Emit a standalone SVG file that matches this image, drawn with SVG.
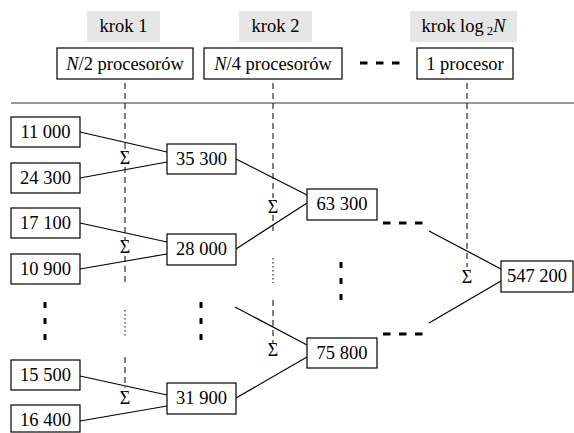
<svg xmlns="http://www.w3.org/2000/svg" width="574" height="433" viewBox="0 0 574 433" font-family="'Liberation Serif', 'Times New Roman', serif">
<style>
text{font-family:'Liberation Serif',serif;font-size:18.5px;fill:#000;text-anchor:middle}
.hd{fill:#e6e6e6;stroke:none}
.bx{fill:#fff;stroke:#000;stroke-width:1.2}
.ln{stroke:#000;stroke-width:1.2;fill:none}
.dv{stroke:#000;stroke-width:1;stroke-dasharray:6 4;fill:none}
.dt{stroke:#000;stroke-width:1;stroke-dasharray:1.5 2.5;fill:none}
.hdash{stroke:#000;stroke-width:3;stroke-dasharray:7.5 8.5;fill:none}
.vdot{stroke:#000;stroke-width:3;stroke-dasharray:6 10;fill:none}
.sg{font-size:18px}
</style>
<g id="headers">
<g id="krok1"><rect class="hd" x="87" y="11" width="73" height="31"/><text x="123.5" y="32">krok 1</text></g>
<g id="krok2"><rect class="hd" x="239" y="11" width="73" height="31"/><text x="275.5" y="32">krok 2</text></g>
<g id="kroklog"><rect class="hd" x="410" y="11" width="107" height="31"/><text x="463.5" y="32">krok log<tspan font-size="13" dx="3" dy="3">2</tspan><tspan font-style="italic" dy="-3">N</tspan></text></g>
<g id="p1"><rect class="bx" x="57" y="48" width="136" height="31"/><text x="125" y="69.5"><tspan font-style="italic">N</tspan>/2 procesorów</text></g>
<g id="p2"><rect class="bx" x="204" y="48" width="138" height="31"/><text x="273" y="69.5"><tspan font-style="italic">N</tspan>/4 procesorów</text></g>
<g id="p3"><rect class="bx" x="417" y="48" width="96" height="31"/><text x="465" y="69.5">1 procesor</text></g>
</g>
<g id="connectors">
<line x1="11" y1="103" x2="574" y2="103" stroke="#777" stroke-width="1.5"/>
<line class="hdash" x1="360" y1="63" x2="400" y2="63"/>
<path class="dv" d="M125,83V150M125,167V240M125,256V286M125,357V388M273,83V198M273,215V232M273,300V344M467,83V267"/>
<path class="dt" d="M125,310V336M273,258V283"/>
<path class="ln" d="M80,132L167,152M80,178L167,162M80,223L167,242M80,269L167,254M80,376L167,395M80,421L167,406M236,159L307,195M236,249L307,203M235,307L307,345M236,398L307,357M429,231L501,269M429,323L501,281"/>
<line class="hdash" x1="383" y1="223" x2="424" y2="223"/>
<line class="hdash" x1="383" y1="334" x2="424" y2="334"/>
<line class="vdot" x1="45" y1="302" x2="45" y2="343"/>
<line class="vdot" x1="201" y1="302" x2="201" y2="343"/>
<line class="vdot" x1="341" y1="262" x2="341" y2="300"/>
<text class="sg" x="125" y="164">Σ</text>
<text class="sg" x="125" y="253">Σ</text>
<text class="sg" x="125" y="404">Σ</text>
<text class="sg" x="273" y="213">Σ</text>
<text class="sg" x="273" y="356">Σ</text>
<text class="sg" x="467" y="283">Σ</text>
</g>
<g id="n11000"><rect class="bx" x="11" y="117" width="69" height="30"/><text x="45.5" y="137.5">11 000</text></g>
<g id="n24300"><rect class="bx" x="11" y="163" width="69" height="30"/><text x="45.5" y="183.5">24 300</text></g>
<g id="n17100"><rect class="bx" x="11" y="208" width="69" height="30"/><text x="45.5" y="228.5">17 100</text></g>
<g id="n10900"><rect class="bx" x="11" y="254" width="69" height="30"/><text x="45.5" y="274.5">10 900</text></g>
<g id="n15500"><rect class="bx" x="11" y="360" width="69" height="30"/><text x="45.5" y="380.5">15 500</text></g>
<g id="n16400"><rect class="bx" x="11" y="405" width="69" height="27"/><text x="45.5" y="426">16 400</text></g>
<g id="n35300"><rect class="bx" x="167" y="144" width="69" height="30"/><text x="201.5" y="164.5">35 300</text></g>
<g id="n28000"><rect class="bx" x="167" y="234" width="69" height="31"/><text x="201.5" y="255">28 000</text></g>
<g id="n31900"><rect class="bx" x="167" y="383" width="69" height="31"/><text x="201.5" y="404">31 900</text></g>
<g id="n63300"><rect class="bx" x="307" y="189" width="70" height="31"/><text x="342" y="210">63 300</text></g>
<g id="n75800"><rect class="bx" x="307" y="338" width="70" height="30"/><text x="342" y="358.5">75 800</text></g>
<g id="n547200"><rect class="bx" x="501" y="261" width="72" height="31"/><text x="537" y="282">547 200</text></g>
</svg>
